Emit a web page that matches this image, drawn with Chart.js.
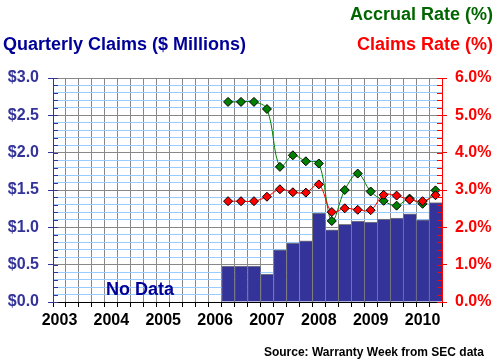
<!DOCTYPE html>
<html>
<head>
<meta charset="utf-8">
<script src="https://cdn.jsdelivr.net/npm/chart.js@4/dist/chart.umd.min.js"></script>
<style>
    body { margin: 0; background: #fff; }
    #wrap { position: relative; width: 497px; height: 364px; font-family: Arial, "Liberation Sans", sans-serif; font-weight: bold; }
    #wrap canvas { position: absolute; left: 0; top: 0; }
    .lbl { position: absolute; white-space: nowrap; }
</style>
</head>
<body>
<div id="wrap">
    <canvas id="chart" width="497" height="364"></canvas>
    <div class="lbl" style="right:4px; top:4px; font-size:18px; line-height:20px; color:#006600;">Accrual Rate (%)</div>
    <div class="lbl" style="right:4px; top:34px; font-size:18px; line-height:20px; color:#FF0000;">Claims Rate (%)</div>
    <div class="lbl" style="left:3px; top:34px; font-size:18px; line-height:20px; color:#000099;">Quarterly Claims ($ Millions)</div>
    <div class="lbl" style="left:90px; width:100px; text-align:center; top:279px; font-size:18px; line-height:20px; color:#000099;">No Data</div>
    <div class="lbl" style="right:13px; top:345px; font-size:12px; line-height:14px; color:#000;">Source: Warranty Week from SEC data</div>
</div>
<script>
// quarters 2003 Q1 .. 2010 Q2
const quarters = [
    '2003 Q1', '2003 Q2', '2003 Q3', '2003 Q4',
    '2004 Q1', '2004 Q2', '2004 Q3', '2004 Q4',
    '2005 Q1', '2005 Q2', '2005 Q3', '2005 Q4',
    '2006 Q1', '2006 Q2', '2006 Q3', '2006 Q4',
    '2007 Q1', '2007 Q2', '2007 Q3', '2007 Q4',
    '2008 Q1', '2008 Q2', '2008 Q3', '2008 Q4',
    '2009 Q1', '2009 Q2', '2009 Q3', '2009 Q4',
    '2010 Q1', '2010 Q2'
];
const years = ['2003', '2004', '2005', '2006', '2007', '2008', '2009', '2010'];

// no data before 2006 Q2
const claims = [ //$ millions
    null, null, null, null, null, null, null, null, null, null, null, null, null,
    0.48, 0.48, 0.48, 0.375, 0.70, 0.79, 0.82, 1.19, 0.965, 1.04, 1.085,
    1.07, 1.11, 1.125, 1.18, 1.10, 1.33
];
const accrualRate = [ //%
    null, null, null, null, null, null, null, null, null, null, null, null, null,
    5.36, 5.36, 5.36, 5.17, 3.62, 3.93, 3.77, 3.71, 2.17, 3.00, 3.44,
    2.96, 2.71, 2.58, 2.77, 2.63, 2.99
];
const claimsRate = [ //%
    null, null, null, null, null, null, null, null, null, null, null, null, null,
    2.70, 2.70, 2.70, 2.82, 3.02, 2.94, 2.93, 3.15, 2.41, 2.51, 2.47,
    2.46, 2.87, 2.85, 2.74, 2.70, 2.86
];

const font = { family: 'Arial, "Liberation Sans", sans-serif', size: 16, weight: 'bold' };
const isMajor = (v, step) => Math.abs(v / step - Math.round(v / step)) < 1e-6;

// short tick marks pointing into the plot, like the old excel chart
const innerTicks = {
    id: 'innerTicks',
    afterDraw(chart) {
        const ctx = chart.ctx;
        const area = chart.chartArea;
        [['y', area.left, 1, '#333399'], ['y2', area.right, -1, '#FF0000']].forEach(([id, x0, dir, color]) => {
            const scale = chart.scales[id];
            ctx.save();
            ctx.strokeStyle = color;
            ctx.lineWidth = 1;
            scale.ticks.forEach(t => {
                const y = Math.round(scale.getPixelForValue(t.value)) + 0.5;
                ctx.beginPath();
                ctx.moveTo(x0, y);
                ctx.lineTo(x0 + dir * 5, y);
                ctx.stroke();
            });
            ctx.restore();
        });
    }
};

new Chart(document.getElementById('chart'), {
    type: 'bar',
    data: {
        labels: quarters,
        datasets: [
            {
                type: 'line',
                label: 'Claims Rate (%)',
                data: claimsRate,
                yAxisID: 'y2',
                borderColor: '#FF0000',
                borderWidth: 1,
                backgroundColor: '#FF0000',
                pointStyle: 'rectRot',
                pointRadius: 4.5,
                pointBorderColor: '#000',
                pointBorderWidth: 1,
                tension: 0.35,
                order: 1
            },
            {
                type: 'line',
                label: 'Accrual Rate (%)',
                data: accrualRate,
                yAxisID: 'y2',
                borderColor: '#008000',
                borderWidth: 1,
                backgroundColor: '#008000',
                pointStyle: 'rectRot',
                pointRadius: 4.5,
                pointBorderColor: '#000',
                pointBorderWidth: 1,
                tension: 0.35,
                order: 2
            },
            {
                label: 'Quarterly Claims',
                data: claims,
                yAxisID: 'y',
                backgroundColor: '#333399',
                borderColor: '#808080',
                borderWidth: { top: 1, left: 1, right: 0, bottom: 0 },
                borderSkipped: false,
                barPercentage: 1,
                categoryPercentage: 1,
                order: 3
            }
        ]
    },
    options: {
        responsive: false,
        animation: false,
        layout: { padding: { top: 78, left: 0, right: 0, bottom: 0 } },
        plugins: {
            legend: { display: false },
            tooltip: { enabled: false }
        },
        scales: {
            x: {
                afterFit: s => { s.height = 62; },
                border: { color: '#000', width: 1 },
                grid: { color: '#888', tickColor: '#000', tickLength: 5, offset: true },
                ticks: {
                    autoSkip: false,
                    maxRotation: 0,
                    padding: 4,
                    color: '#000',
                    font: font,
                    callback: (v, i) => (i % 4 === 0 ? years[i / 4] : '')
                }
            },
            y: {
                position: 'left',
                min: 0,
                max: 3,
                afterFit: s => { s.width = 53; },
                border: { color: '#333399', width: 1 },
                grid: {
                    color: c => (isMajor(c.tick.value, 0.5) ? '#888' : '#99CCFF'),
                    tickColor: c => (isMajor(c.tick.value, 0.5) ? '#333399' : 'rgba(0,0,0,0)'),
                    tickLength: 5
                },
                ticks: {
                    stepSize: 0.1,
                    maxTicksLimit: 100,
                    autoSkip: false,
                    padding: 9,
                    color: '#333399',
                    font: font,
                    callback: v => (isMajor(v, 0.5) ? '$' + v.toFixed(1) : '')
                }
            },
            y2: {
                position: 'right',
                min: 0,
                max: 6,
                afterFit: s => { s.width = 55; },
                border: { color: '#FF0000', width: 1 },
                grid: {
                    drawOnChartArea: false,
                    tickColor: c => (isMajor(c.tick.value, 1) ? '#FF0000' : 'rgba(0,0,0,0)'),
                    tickLength: 5
                },
                ticks: {
                    stepSize: 0.2,
                    maxTicksLimit: 100,
                    autoSkip: false,
                    padding: 8,
                    color: '#FF0000',
                    font: font,
                    callback: v => (isMajor(v, 1) ? v.toFixed(1) + '%' : '')
                }
            }
        }
    },
    plugins: [innerTicks]
});
</script>
</body>
</html>
